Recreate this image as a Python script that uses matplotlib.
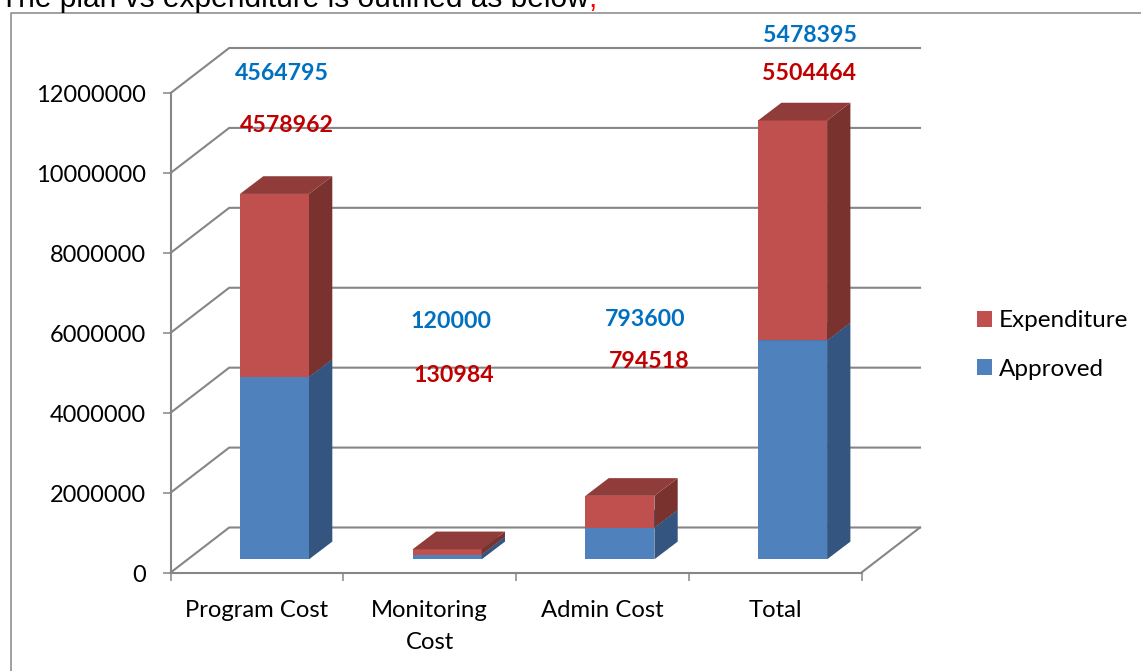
import matplotlib
matplotlib.use("Agg")
import matplotlib.pyplot as plt
from matplotlib.lines import Line2D
from matplotlib.patches import Patch, Polygon
from matplotlib.transforms import Affine2D, ScaledTranslation

categories = ["Program Cost", "Monitoring\nCost", "Admin Cost", "Total"]
approved = [4564795, 120000, 793600, 5478395]
expenditure = [4578962, 130984, 794518, 5504464]
y_ticks = [0, 2000000, 4000000, 6000000, 8000000, 10000000, 12000000]

W, H = 1141, 671
GREY = "#868686"
FONT = "Lato"
plt.rcParams["font.family"] = [FONT, "DejaVu Sans"]

fig = plt.figure(figsize=(W / 100, H / 100), dpi=100, facecolor="white")
px = Affine2D().scale(1 / W, -1 / H).translate(0, 1) + fig.transFigure

# Plot front plane: x 170.7..861.5 px, y 572.5 (0) .. 93 (12M) px
L, R, T, B = 170.7, 861.5, 93.0, 572.5
ax = fig.add_axes([L / W, 1 - B / H, (R - L) / W, (B - T) / H])
ax.set_xlim(0, 4)
ax.set_ylim(0, 12000000)
ax.patch.set_visible(False)

x_per_px = 4 / (R - L)
y_per_px = 12000000 / (B - T)

# Walls and gridlines
wall_dx, wall_dy = 58.5 * x_per_px, 45 * y_per_px
for v in y_ticks:
    ax.plot([0, wall_dx, 4 + wall_dx], [v, v + wall_dy, v + wall_dy], color=GREY,
            lw=1.5, clip_on=False, zorder=1, solid_joinstyle="miter")
ax.plot([4, 4 + wall_dx], [0, wall_dy], color=GREY, lw=1.5, clip_on=False, zorder=1)

# Bars
bar_left, bar_w = 69.3 * x_per_px, 69 * x_per_px
base = 13.2 * y_per_px
dx, dy = 23.3 * x_per_px, 17.7 * y_per_px


def bar3d(i, bottom, height, front, side, top, z):
    x0 = i + bar_left
    x1 = x0 + bar_w
    y0, y1 = bottom, bottom + height
    ax.bar(x0, height, bar_w, bottom=y0, align="edge", color=front, zorder=z, clip_on=False)
    ax.add_patch(Polygon([(x1, y0), (x1 + dx, y0 + dy), (x1 + dx, y1 + dy), (x1, y1)],
                         closed=True, fc=side, ec="none", zorder=z, clip_on=False))
    ax.add_patch(Polygon([(x0, y1), (x0 + dx, y1 + dy), (x1 + dx, y1 + dy), (x1, y1)],
                         closed=True, fc=top, ec="none", zorder=z, clip_on=False))


for i, (a, e) in enumerate(zip(approved, expenditure)):
    bar3d(i, base, a, "#4F81BD", "#33557F", "#3F6797", 3 + i * 0.1)
    bar3d(i, base + a, e, "#C0504D", "#7A322F", "#8F3C3A", 3.05 + i * 0.1)

# Axes
for s in ("top", "right"):
    ax.spines[s].set_visible(False)
for s in ("left", "bottom"):
    ax.spines[s].set_color(GREY)
    ax.spines[s].set_linewidth(1.5)
    ax.spines[s].set_zorder(2)
ax.set_yticks(y_ticks)
ax.set_yticklabels([str(v) for v in y_ticks], fontsize=17, color="black")
ax.tick_params(axis="y", length=6, width=1.1, color=GREY, pad=12)
for lab in ax.get_yticklabels():
    lab.set_transform(lab.get_transform() + ScaledTranslation(0, -1 / 100, fig.dpi_scale_trans))
ax.set_xticks(range(5))
ax.set_xticklabels([])
ax.tick_params(axis="x", which="major", length=6, width=1.1, color=GREY)
ax.set_xticks([i + 0.5 for i in range(4)], minor=True)
ax.set_xticklabels(categories, minor=True, fontsize=17.2, color="black", linespacing=1.65)
ax.tick_params(axis="x", which="minor", length=0, pad=19.5)

# Data labels
approved_pos = [(282, 73), (451, 321), (645, 319), (810.5, 35)]
expenditure_pos = [(287, 125), (454, 375), (649, 361), (809, 74)]
for v, p in zip(approved, approved_pos):
    fig.text(p[0], p[1], str(v), transform=px, color="#0070C0", fontsize=16.7,
             fontweight="bold", ha="center", va="center", zorder=6)
for v, p in zip(expenditure, expenditure_pos):
    fig.text(p[0], p[1], str(v), transform=px, color="#C00000", fontsize=16.7,
             fontweight="bold", ha="center", va="center", zorder=6)

# Legend
leg = ax.legend(handles=[Patch(fc="#C0504D", label="Expenditure"), Patch(fc="#4F81BD", label="Approved")],
                loc="center left", bbox_to_anchor=(977 / W, 1 - 345 / H), bbox_transform=fig.transFigure,
                frameon=False, fontsize=17.5, handlelength=0.62, handleheight=0.62,
                handletextpad=0.29, labelspacing=1.12, borderpad=0, borderaxespad=0)
for t in leg.get_texts():
    t.set_color("black")
for h in leg.legend_handles:
    h.set_linewidth(0)

# Chart frame and surrounding text
fig.add_artist(Line2D([10.5, 10.5, W], [H, 12.5, 12.5], transform=px, color=GREY, lw=1.1))
title = "The plan vs expenditure is outlined as below"
t = fig.text(0, 7, title, transform=px, fontsize=21.5, family="Liberation Sans",
             color="black", ha="left", va="baseline")
fig.canvas.draw()
bb = t.get_window_extent()
fig.text(bb.x1, 7, ",", transform=px, fontsize=21.5, family="Liberation Sans",
         color="#FF0000", ha="left", va="baseline")

fig.savefig("out.png", dpi=100, facecolor="white")
